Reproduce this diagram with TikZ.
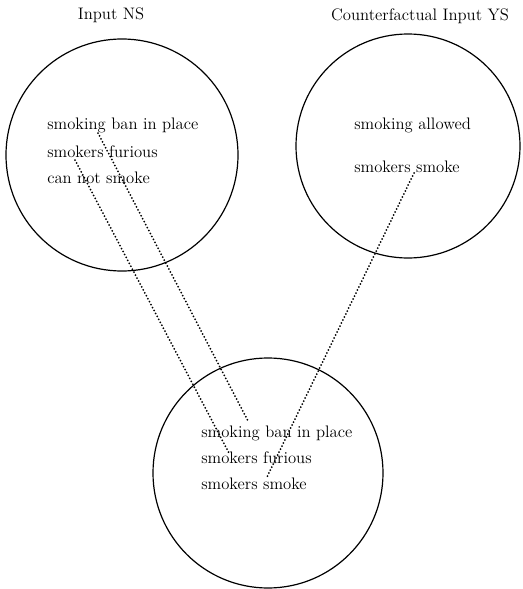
\documentclass[tikz,border=0pt]{standalone}
\usetikzlibrary{positioning,calc}
\tikzset{
  spc/.style={draw=black, circle, line width=0.9pt, inner sep=0pt},
  txt/.style={anchor=base west, inner sep=0pt, font=\fontsize{12.5}{15}\selectfont},
  ttl/.style={anchor=base, inner sep=0pt, font=\fontsize{12.5}{15}\selectfont},
  lnk/.style={line width=1.5pt, line cap=round, dash pattern=on 0pt off 2.5pt},
}
\begin{document}
\begin{tikzpicture}[x=0.75pt, y=-0.75pt]
  \useasboundingbox (0,0) rectangle (522,589);
  % spaces
  \node[spc, minimum size=174pt] (ns) at (122,155) {};
  \node[spc, minimum size=168pt] (ys) at (408,146) {};
  \node[spc, minimum size=172.5pt] (bl) at (268,473) {};
  % titles
  \node[ttl] (nsT) at (111,19) {Input NS};
  \node[ttl] (ysT) at (420,20) {Counterfactual Input YS};
  % input NS
  \node[txt] (nsBan) at (47,129) {smoking ban in place};
  \node[txt] (nsFur) at (47,157) {smokers furious};
  \node[txt] (nsNot) at (47,183) {can not smoke};
  % counterfactual input YS
  \node[txt] (ysAll) at (354,129) {smoking allowed};
  \node[txt] (ysSmk) at (354,172) {smokers smoke};
  % blend
  \node[txt] (blBan) at (201,437) {smoking ban in place};
  \node[txt] (blFur) at (201,463) {smokers furious};
  \node[txt] (blSmk) at (201,489) {smokers smoke};
  % links
  \draw[lnk] ($(nsBan.base west)+(51,4)$) -- ($(blBan.base west)+(47,-16)$);
  \draw[lnk] ($(nsFur.base west)+(28,3)$) -- ($(blFur.base west)+(29,-8)$);
  \draw[lnk] ($(ysSmk.base west)+(60,1)$) -- ($(blSmk.base west)+(66,-12)$);
\end{tikzpicture}
\end{document}
